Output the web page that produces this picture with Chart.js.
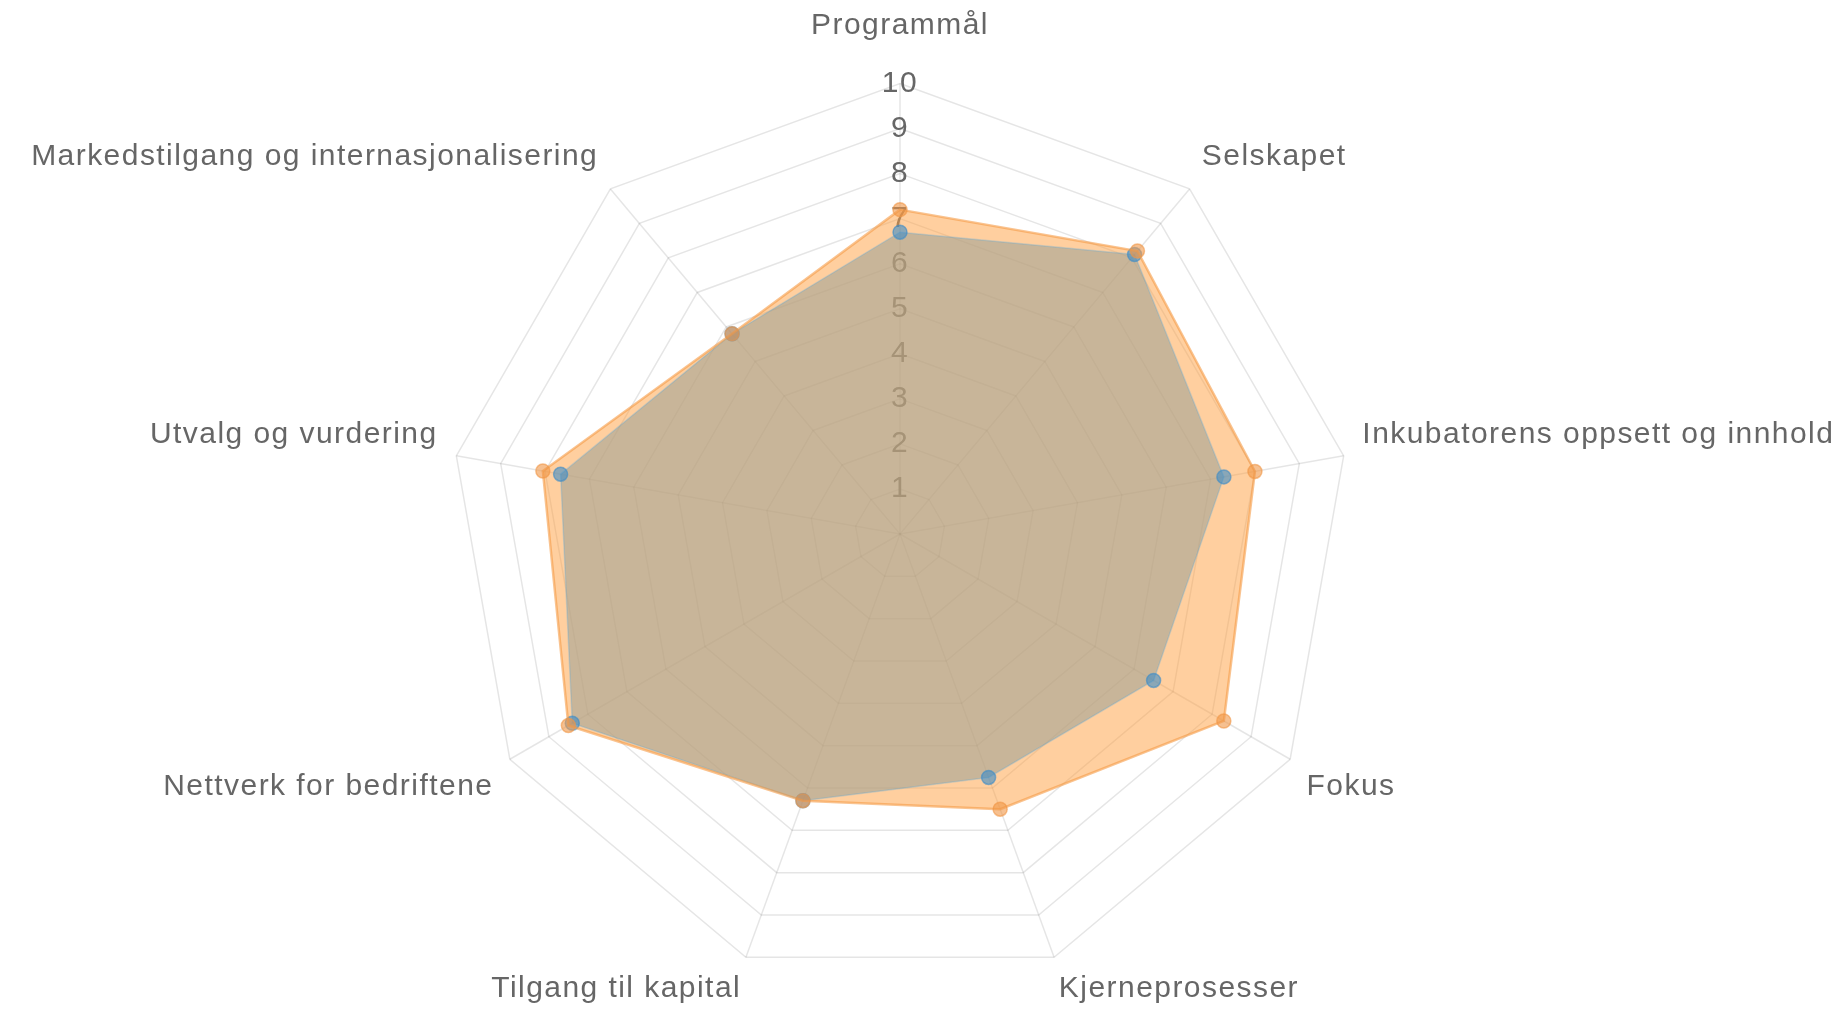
<!DOCTYPE html>
<html>
<head>
<meta charset="utf-8">
<script src="https://cdn.jsdelivr.net/npm/chart.js@4"></script>
<style>
    html, body { margin: 0; padding: 0; background: #fff; overflow: hidden; }
    #wrap { position: relative; width: 1847px; height: 1018px; overflow: hidden; }
    #radarChart { position: absolute; left: 0; top: 0; }
</style>
</head>
<body>
<div id="wrap"><canvas id="radarChart" width="2000" height="1056"></canvas></div>
<script>
// Categories (clockwise from top)
const categories = [
    'Programmål',
    'Selskapet',
    'Inkubatorens oppsett og innhold',
    'Fokus',
    'Kjerneprosesser',
    'Tilgang til kapital',
    'Nettverk for bedriftene',
    'Utvalg og vurdering',
    'Markedstilgang og internasjonalisering'
];

// Series values
const orangeValues = [7.2, 8.2, 8.0, 8.3, 6.5, 6.3, 8.5, 8.05, 5.8];
const blueValues = [6.7, 8.1, 7.3, 6.5, 5.75, 6.3, 8.4, 7.65, 5.8];

// Scale ticks
const tickMin = 0;
const tickMax = 10;
const tickStep = 1;

// Where the radar sits in the window
const targetX = 900;
const targetY = 534;
const targetRadius = 452;

// Canvas text in the original is a bit wider than plain Arial
const letterSpacing = {
    id: 'letterSpacing',
    beforeUpdate(chart) { chart.ctx.letterSpacing = '1.45px'; },
    beforeDraw(chart) { chart.ctx.letterSpacing = '1.45px'; }
};

const labelFont = { family: "'Liberation Sans', Arial, sans-serif", size: 30 };

// top label sits higher, bottom ones a little closer to the web
function labelPadding(c) {
    if (c.index === 0) return 23;
    if (c.index === 4 || c.index === 5) return -3;
    return 2;
}

const canvas = document.getElementById('radarChart');
const radarChart = new Chart(canvas.getContext('2d'), {
    type: 'radar',
    data: {
        labels: categories,
        datasets: [{
            label: 'Orange',
            data: orangeValues,
            backgroundColor: 'rgba(255, 159, 64, 0.5)',
            borderColor: 'rgba(245, 155, 70, 0.6)',
            borderWidth: 2.5,
            pointRadius: 7,
            pointBorderWidth: 1.5,
            pointBackgroundColor: 'rgba(240, 150, 70, 0.6)',
            pointBorderColor: 'rgba(240, 150, 70, 0.6)',
            fill: true
        }, {
            label: 'Blue',
            data: blueValues,
            backgroundColor: 'rgba(54, 162, 235, 0.55)',
            borderColor: 'rgba(54, 162, 235, 0.25)',
            borderWidth: 1.5,
            pointRadius: 7,
            pointBorderWidth: 1.5,
            pointBackgroundColor: 'rgba(60, 140, 200, 0.6)',
            pointBorderColor: 'rgba(60, 140, 200, 0.6)',
            fill: true
        }]
    },
    options: {
        responsive: false,
        animation: false,
        layout: { padding: 0 },
        plugins: {
            legend: { display: false },
            tooltip: { enabled: false },
            filler: { drawTime: 'beforeDatasetsDraw' }
        },
        scales: {
            r: {
                min: tickMin,
                max: tickMax,
                ticks: {
                    stepSize: tickStep,
                    showLabelBackdrop: false,
                    color: '#666',
                    font: labelFont
                },
                grid: { color: 'rgba(0, 0, 0, 0.1)', lineWidth: 1.5 },
                angleLines: { color: 'rgba(0, 0, 0, 0.1)', lineWidth: 1.5 },
                pointLabels: {
                    color: '#666',
                    padding: labelPadding,
                    font: labelFont
                }
            }
        }
    },
    plugins: [letterSpacing]
});

// Grow the canvas until the web has the wanted radius, then shift it into place
let w = 2000, h = 1056;
for (let k = 0; k < 8; k++) {
    radarChart.resize(w, h);
    const dr = targetRadius - radarChart.scales.r.drawingArea;
    if (Math.abs(dr) < 0.5) break;
    w += Math.round(2 * dr);
    h += Math.round(2 * dr);
}
const r = radarChart.scales.r;
canvas.style.left = (targetX - r.xCenter) + 'px';
canvas.style.top = (targetY - r.yCenter) + 'px';
</script>
</body>
</html>
